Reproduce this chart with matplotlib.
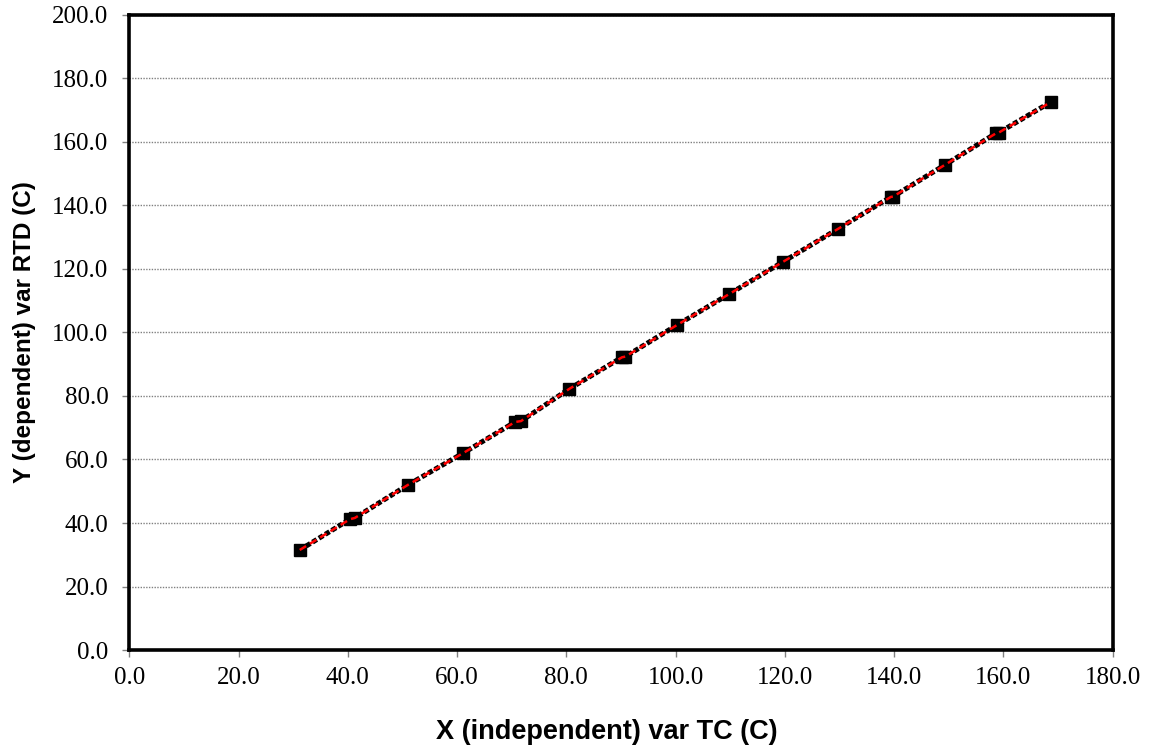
import matplotlib
matplotlib.use("Agg")
from matplotlib import pyplot as plt

# readings, TC (x) vs RTD (y)
tc_x = [31.2, 40.4, 41.3, 51.0, 61.1, 70.6, 71.7, 80.5, 90.2, 90.8,
        100.3, 109.8, 119.6, 129.7, 139.4, 139.8, 149.3, 158.7, 159.1, 168.7]
rtd_y = [31.5, 41.2, 41.6, 52.0, 62.0, 71.8, 72.1, 82.2, 92.2, 92.4,
         102.4, 112.1, 122.2, 132.6, 142.7, 142.8, 152.8, 162.8, 162.9, 172.6]

x_ticks = [0, 20, 40, 60, 80, 100, 120, 140, 160, 180]
y_ticks = [0, 20, 40, 60, 80, 100, 120, 140, 160, 180, 200]

fig = plt.figure(figsize=(11.49, 7.48), dpi=100)
ax = fig.add_axes([0.1125, 0.131, 0.8559, 0.849])

ax.plot(tc_x, rtd_y, color="black", lw=3.6, ls=(0, (1, 0.5)),
        marker="s", ms=8.5, mfc="black", mec="black", zorder=3)
ax.plot(tc_x, rtd_y, color="red", lw=1.8, ls=(0, (3, 1.8)), zorder=4)

ax.set_xlim(0, 180)
ax.set_ylim(0, 200)
ax.set_xticks(x_ticks)
ax.set_yticks(y_ticks)
tick_font = {"family": "Liberation Serif", "size": 18}
ax.set_xticklabels(["%.1f" % v for v in x_ticks], fontdict=tick_font)
ax.set_yticklabels(["%.1f" % v for v in y_ticks], fontdict=tick_font)
ax.tick_params(direction="out", length=5, width=1, color="#808080")
ax.tick_params(axis="y", pad=10)
ax.tick_params(axis="x", pad=7)

ax.yaxis.grid(True, color="#808080", ls=(0, (1, 1)), lw=1)
ax.set_axisbelow(True)
for s in ax.spines.values():
    s.set_linewidth(2.6)
    s.set_color("black")

ax.set_xlabel("X (independent) var TC (C)", family="Liberation Sans",
              weight="bold", fontsize=19.5, va="center")
ax.xaxis.set_label_coords(0.486, -0.129)
ax.set_ylabel("Y (dependent) var RTD (C)", family="Liberation Sans",
              weight="bold", fontsize=17.5, labelpad=12)

fig.savefig("out.png", dpi=100)
